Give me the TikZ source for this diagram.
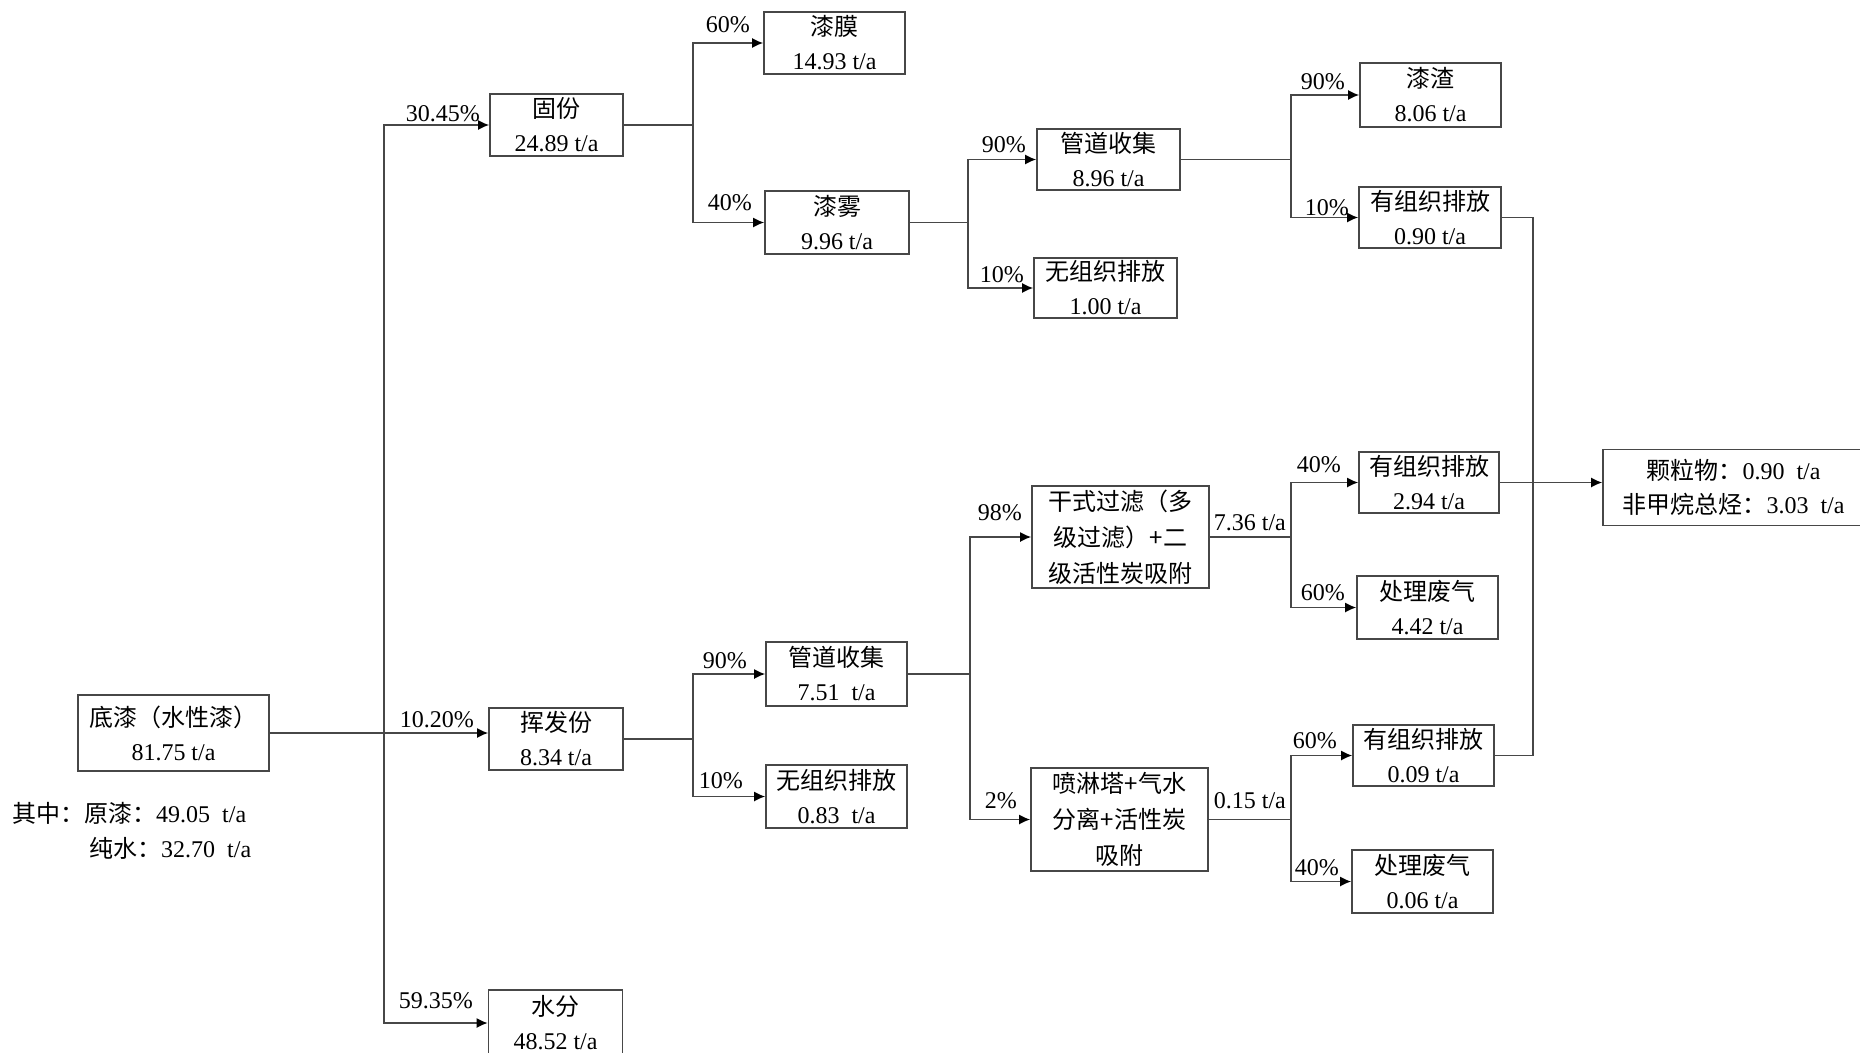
\documentclass[tikz,border=0pt]{standalone}
\usepackage{fontspec}
\setmainfont{Liberation Serif}
\newfontfamily\cjk{Noto Sans CJK SC}
\usetikzlibrary{arrows.meta}
\begin{document}
\begin{tikzpicture}[x=1pt,y=-1pt,
  box/.style={draw=black!72, line width=1.6pt, align=center, inner sep=0pt,
    font=\fontsize{24}{34}\selectfont},
  box3/.style={box, font=\fontsize{24}{36}\selectfont},
  lbl/.style={font=\fontsize{24}{28}\selectfont, inner sep=0pt, anchor=base east},
  ln/.style={line width=1.6pt, draw=black!72},
  arr/.style={ln, -{Latex[length=11pt,width=10pt,fill=black,color=black]}}]
\useasboundingbox (0,0) rectangle (1860,1052);
\clip (0,0) rectangle (1860,1052);

% boxes
\node[box, minimum width=191pt, minimum height=76pt] (dq) at (173.5,733) {{\cjk 底漆（水性漆）}\\81.75 t/a};
\node[box, minimum width=133pt, minimum height=62pt] (gf) at (556.5,125) {{\cjk 固份}\\24.89 t/a};
\node[box, minimum width=134pt, minimum height=62pt] (hff) at (556,739) {{\cjk 挥发份}\\8.34 t/a};
\node[box, minimum width=134pt, minimum height=66pt] (sf) at (555.5,1023) {{\cjk 水分}\\48.52 t/a};
\node[box, minimum width=141pt, minimum height=62pt] (qm) at (834.5,43) {{\cjk 漆膜}\\14.93 t/a};
\node[box, minimum width=144pt, minimum height=63pt] (qw) at (837,222.5) {{\cjk 漆雾}\\9.96 t/a};
\node[box, minimum width=143pt, minimum height=61pt] (gd1) at (1108.5,159.5) {{\cjk 管道收集}\\8.96 t/a};
\node[box, minimum width=143pt, minimum height=60pt] (wz1) at (1105.5,288) {{\cjk 无组织排放}\\1.00 t/a};
\node[box, minimum width=141pt, minimum height=64pt] (qz) at (1430.5,95) {{\cjk 漆渣}\\8.06 t/a};
\node[box, minimum width=142pt, minimum height=61pt] (yz1) at (1430,217.5) {{\cjk 有组织排放}\\0.90 t/a};
\node[box, minimum width=141pt, minimum height=64pt] (gd2) at (836.5,674) {{\cjk 管道收集}\\7.51~~t/a};
\node[box, minimum width=141pt, minimum height=63pt] (wz2) at (836.5,796.5) {{\cjk 无组织排放}\\0.83~~t/a};
\node[box3, minimum width=177pt, minimum height=102pt] (gs) at (1120.5,537) {{\cjk 干式过滤（多}\\{\cjk 级过滤）+二}\\{\cjk 级活性炭吸附}};
\node[box3, minimum width=177pt, minimum height=103pt] (pl) at (1119.5,819.5) {{\cjk 喷淋塔+气水}\\{\cjk 分离+活性炭}\\{\cjk 吸附}};
\node[box, minimum width=140pt, minimum height=61pt] (yz2) at (1429,482.5) {{\cjk 有组织排放}\\2.94 t/a};
\node[box, minimum width=141pt, minimum height=63pt] (cl1) at (1427.5,607.5) {{\cjk 处理废气}\\4.42 t/a};
\node[box, minimum width=141pt, minimum height=61pt] (yz3) at (1423.5,755.5) {{\cjk 有组织排放}\\0.09 t/a};
\node[box, minimum width=141pt, minimum height=63pt] (cl2) at (1422.5,881.5) {{\cjk 处理废气}\\0.06 t/a};
\node[box, minimum width=261pt, minimum height=76pt] (kl) at (1733.5,487.5) {{\cjk 颗粒物：}0.90~~t/a\\{\cjk 非甲烷总烃：}3.03~~t/a};

% note
\node[font=\fontsize{24}{35}\selectfont, align=left, inner sep=0pt, anchor=base west] (note) at (12,857)
  {{\cjk 其中：原漆：}49.05~~t/a\\\hspace*{77pt}{\cjk 纯水：}32.70~~t/a};

% junction columns
\coordinate (j1) at (384,0);
\coordinate (j2) at (693,0);
\coordinate (j3) at (968,0);
\coordinate (j3b) at (970,0);
\coordinate (j4) at (1291,0);
\coordinate (j5) at (1533,0);

% connectors
\draw[arr] (dq.east) -- (dq.east -| hff.west);
\draw[arr] (j1 |- dq.east) |- (gf.west);
\draw[arr] (j1 |- dq.east) |- (sf.west);

\draw[ln] (gf.east) -- (gf.east -| j2);
\draw[arr] (gf.east -| j2) |- (qm.west);
\draw[arr] (gf.east -| j2) |- (qw.west);

\draw[ln] (hff.east) -- (hff.east -| j2);
\draw[arr] (hff.east -| j2) |- (gd2.west);
\draw[arr] (hff.east -| j2) |- (wz2.west);

\draw[ln] (qw.east) -- (qw.east -| j3);
\draw[arr] (qw.east -| j3) |- (gd1.west);
\draw[arr] (qw.east -| j3) |- (wz1.west);

\draw[ln] (gd2.east) -- (gd2.east -| j3b);
\draw[arr] (gd2.east -| j3b) |- (gs.west);
\draw[arr] (gd2.east -| j3b) |- (pl.west);

\draw[ln] (gd1.east) -- (gd1.east -| j4);
\draw[arr] (gd1.east -| j4) |- (qz.west);
\draw[arr] (gd1.east -| j4) |- (yz1.west);

\draw[ln] (gs.east) -- (gs.east -| j4);
\draw[arr] (gs.east -| j4) |- (yz2.west);
\draw[arr] (gs.east -| j4) |- (cl1.west);

\draw[ln] (pl.east) -- (pl.east -| j4);
\draw[arr] (pl.east -| j4) |- (yz3.west);
\draw[arr] (pl.east -| j4) |- (cl2.west);

\draw[ln] (yz1.east) -| (j5 |- yz3.east) -- (yz3.east);
\draw[arr] (yz2.east) -- (kl.west |- yz2.east);

% labels
\node[lbl] (l1) at (480,121.5) {30.45\%};
\node[lbl] (l2) at (474,727) {10.20\%};
\node[lbl] (l3) at (473,1008) {59.35\%};
\node[lbl] (l4) at (750,32.5) {60\%};
\node[lbl] (l5) at (752,210) {40\%};
\node[lbl] (l6) at (747,668) {90\%};
\node[lbl] (l7) at (743,788) {10\%};
\node[lbl] (l8) at (1026,152.7) {90\%};
\node[lbl] (l9) at (1024,282.5) {10\%};
\node[lbl] (l10) at (1022,520) {98\%};
\node[lbl] (l11) at (1017,808) {2\%};
\node[lbl] (l12) at (1345,89.6) {90\%};
\node[lbl] (l13) at (1349,215) {10\%};
\node[lbl] (l14) at (1341,472) {40\%};
\node[lbl] (l15) at (1345,600.5) {60\%};
\node[lbl] (l16) at (1337,748) {60\%};
\node[lbl] (l17) at (1339,875) {40\%};
\node[lbl] (l18) at (1286,530) {7.36 t/a};
\node[lbl] (l19) at (1286,808) {0.15 t/a};
\end{tikzpicture}
\end{document}
